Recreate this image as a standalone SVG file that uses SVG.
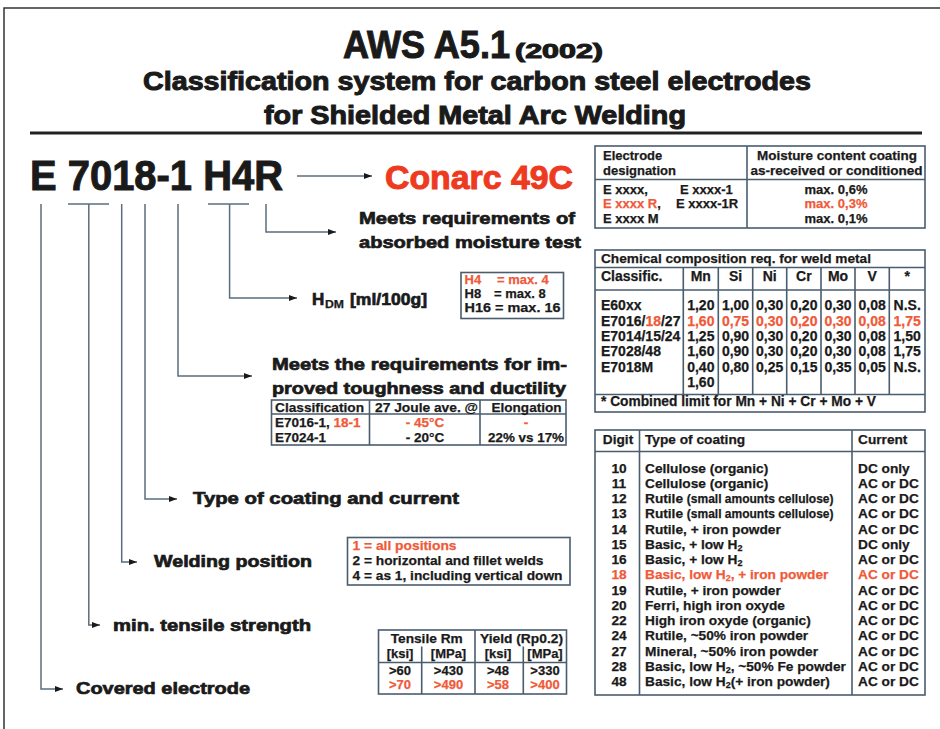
<svg xmlns="http://www.w3.org/2000/svg" width="940" height="729" viewBox="0 0 940 729">
<defs>
<marker id="ah" markerUnits="userSpaceOnUse" markerWidth="9" markerHeight="7" refX="8" refY="3.5" orient="auto">
<path d="M0,0.5 L8,3.5 L0,6.5 z" fill="#1a1a1a"/>
</marker>
<style>
text{font-family:"Liberation Sans",Arial,Helvetica,sans-serif;font-weight:bold;fill:#1a1a1a;stroke:#1a1a1a;stroke-width:0.25}
.big{stroke:#1a1a1a;stroke-width:1}
.lbl{font-size:17px;stroke:#1a1a1a;stroke-width:0.7}
.red{fill:#ef5a3a;stroke:#ef5a3a}
.cred{fill:#ee3a1f;stroke:#ee3a1f;stroke-width:1}
.tb{fill:none;stroke:#4a5d6e;stroke-width:1.6}
.cn{fill:none;stroke:#5b6d7e;stroke-width:1.5}
.t13{font-size:13px}
.t14{font-size:14px}
.tr{font-size:13.7px}
.m{text-anchor:middle}
</style>
</defs>
<rect width="940" height="729" fill="#ffffff"/>
<path d="M4,729 V8 H940" fill="none" stroke="#333" stroke-width="1.5"/>

<g id="title">
<text x="343" y="58" font-size="38" class="big" textLength="167" lengthAdjust="spacingAndGlyphs">AWS A5.1</text>
<text x="515" y="58" font-size="20" class="big" textLength="88" lengthAdjust="spacingAndGlyphs">(2002)</text>
<text x="143" y="90" font-size="26" class="big" textLength="668" lengthAdjust="spacingAndGlyphs">Classification system for carbon steel electrodes</text>
<text x="264" y="124" font-size="26" class="big" textLength="422" lengthAdjust="spacingAndGlyphs">for Shielded Metal Arc Welding</text>
<line x1="30" y1="133" x2="922" y2="133" stroke="#222" stroke-width="3"/>
</g>

<g id="designation">
<text x="30" y="190" font-size="42" class="big" textLength="253" lengthAdjust="spacingAndGlyphs">E 7018-1 H4R</text>
</g>
<g id="conarc">
<text x="385" y="189" font-size="34" class="cred" textLength="188" lengthAdjust="spacingAndGlyphs">Conarc 49C</text>
</g>

<g id="connectors">
<line class="cn" x1="297" y1="176" x2="372" y2="176" stroke="#333" marker-end="url(#ah)"/>
<line class="cn" x1="68" y1="204" x2="109" y2="204"/>
<line class="cn" x1="208" y1="204" x2="249" y2="204"/>
<path class="cn" d="M41,204 V689 H63" marker-end="url(#ah)"/>
<path class="cn" d="M88.8,204 V625 H100" marker-end="url(#ah)"/>
<path class="cn" d="M121.7,204 V562 H137" marker-end="url(#ah)"/>
<path class="cn" d="M145,204 V499 H177" marker-end="url(#ah)"/>
<path class="cn" d="M178,204 V376 H252" marker-end="url(#ah)"/>
<path class="cn" d="M229.6,204 V298 H297" marker-end="url(#ah)"/>
<path class="cn" d="M266,204 V232 H336" marker-end="url(#ah)"/>
</g>

<g id="label-moisture-test">
<text x="359" y="224" class="lbl" textLength="216" lengthAdjust="spacingAndGlyphs">Meets requirements of</text>
<text x="359" y="248" class="lbl" textLength="222" lengthAdjust="spacingAndGlyphs">absorbed moisture test</text>
</g>
<g id="label-hdm">
<text x="312" y="305" class="lbl">H</text>
<text x="325" y="308" font-size="10" textLength="19" lengthAdjust="spacingAndGlyphs">DM</text>
<text x="350" y="305" class="lbl" textLength="77" lengthAdjust="spacingAndGlyphs">[ml/100g]</text>
</g>
<g id="label-toughness">
<text x="272" y="370" class="lbl" textLength="295" lengthAdjust="spacingAndGlyphs">Meets the requirements for im-</text>
<text x="272" y="394" class="lbl" textLength="294" lengthAdjust="spacingAndGlyphs">proved toughness and ductility</text>
</g>
<g id="label-coating">
<text x="193" y="504" class="lbl" textLength="266" lengthAdjust="spacingAndGlyphs">Type of coating and current</text>
</g>
<g id="label-position">
<text x="154" y="567" class="lbl" textLength="158" lengthAdjust="spacingAndGlyphs">Welding position</text>
</g>
<g id="label-tensile">
<text x="113" y="631" class="lbl" textLength="198" lengthAdjust="spacingAndGlyphs">min. tensile strength</text>
</g>
<g id="label-covered">
<text x="76" y="694" class="lbl" textLength="174" lengthAdjust="spacingAndGlyphs">Covered electrode</text>
</g>

<g id="moisture-table">
<rect class="tb" x="595" y="146" width="330" height="82"/>
<line class="tb" x1="595" y1="179.5" x2="925" y2="179.5"/>
<line class="tb" x1="747" y1="146" x2="747" y2="228"/>
<text x="603" y="160" class="t13">Electrode</text>
<text x="603" y="175" class="t13">designation</text>
<text x="837" y="160" class="t13 m" textLength="160" lengthAdjust="spacingAndGlyphs">Moisture content coating</text>
<text x="836.5" y="175" class="t13 m" textLength="172" lengthAdjust="spacingAndGlyphs">as-received or conditioned</text>
<text x="603" y="194" class="t13">E xxxx,</text>
<text x="680" y="194" class="t13">E xxxx-1</text>
<text x="603" y="208" class="t13"><tspan class="red">E xxxx R</tspan>,</text>
<text x="676" y="208" class="t13">E xxxx-1R</text>
<text x="603" y="223" class="t13">E xxxx M</text>
<text x="836" y="194" class="t13 m">max. 0,6%</text>
<text x="836" y="208" class="t13 m red">max. 0,3%</text>
<text x="836" y="223" class="t13 m">max. 0,1%</text>
</g>

<g id="h-box">
<rect class="tb" x="461" y="272.5" width="102.5" height="46"/>
<text x="464.5" y="284.3" class="t13 red">H4</text>
<text x="497" y="284.3" class="t13 red">= max. 4</text>
<text x="464.5" y="298.3" class="t13">H8</text>
<text x="494" y="298.3" class="t13">= max. 8</text>
<text x="464.5" y="311.7" class="t13" textLength="96" lengthAdjust="spacingAndGlyphs">H16 = max. 16</text>
</g>

<g id="chem-table">
<rect class="tb" x="595" y="250" width="330" height="162"/>
<line class="tb" x1="595" y1="267.5" x2="925" y2="267.5"/>
<line class="tb" x1="595" y1="290" x2="925" y2="290"/>
<line class="tb" x1="595" y1="394.5" x2="925" y2="394.5"/>
<path class="tb" d="M683.3,267.5 V394.5 M718.3,267.5 V394.5 M752.7,267.5 V394.5 M786.7,267.5 V394.5 M821,267.5 V394.5 M855,267.5 V394.5 M889.3,267.5 V394.5"/>
<text x="601" y="262.5" font-size="13.5" textLength="270" lengthAdjust="spacingAndGlyphs">Chemical composition req. for weld metal</text>
<text x="601" y="281" class="t14">Classific.</text>
<text y="281" class="t14 m"><tspan x="700.8">Mn</tspan><tspan x="735.5">Si</tspan><tspan x="769.7">Ni</tspan><tspan x="803.8">Cr</tspan><tspan x="838">Mo</tspan><tspan x="872.2">V</tspan><tspan x="907.2">*</tspan></text>
<text x="601" y="310" class="t14">E60xx</text>
<text x="601" y="325.5" class="t14">E7016/<tspan class="red">18</tspan>/27</text>
<text x="601" y="341" class="t14">E7014/15/24</text>
<text x="601" y="356" class="t14">E7028/48</text>
<text x="601" y="371.5" class="t14">E7018M</text>
<text y="310" class="t14 m"><tspan x="700.8">1,20</tspan><tspan x="735.5">1,00</tspan><tspan x="769.7">0,30</tspan><tspan x="803.8">0,20</tspan><tspan x="838">0,30</tspan><tspan x="872.2">0,08</tspan><tspan x="907.2">N.S.</tspan></text>
<text y="325.5" class="t14 m red"><tspan x="700.8">1,60</tspan><tspan x="735.5">0,75</tspan><tspan x="769.7">0,30</tspan><tspan x="803.8">0,20</tspan><tspan x="838">0,30</tspan><tspan x="872.2">0,08</tspan><tspan x="907.2">1,75</tspan></text>
<text y="341" class="t14 m"><tspan x="700.8">1,25</tspan><tspan x="735.5">0,90</tspan><tspan x="769.7">0,30</tspan><tspan x="803.8">0,20</tspan><tspan x="838">0,30</tspan><tspan x="872.2">0,08</tspan><tspan x="907.2">1,50</tspan></text>
<text y="356" class="t14 m"><tspan x="700.8">1,60</tspan><tspan x="735.5">0,90</tspan><tspan x="769.7">0,30</tspan><tspan x="803.8">0,20</tspan><tspan x="838">0,30</tspan><tspan x="872.2">0,08</tspan><tspan x="907.2">1,75</tspan></text>
<text y="371.5" class="t14 m"><tspan x="700.8">0,40</tspan><tspan x="735.5">0,80</tspan><tspan x="769.7">0,25</tspan><tspan x="803.8">0,15</tspan><tspan x="838">0,35</tspan><tspan x="872.2">0,05</tspan><tspan x="907.2">N.S.</tspan></text>
<text x="700.8" y="387" class="t14 m">1,60</text>
<text x="601" y="406" class="t14" textLength="275" lengthAdjust="spacingAndGlyphs">* Combined limit for Mn + Ni + Cr + Mo + V</text>
</g>

<g id="toughness-table">
<rect class="tb" x="271.5" y="400" width="294.5" height="45"/>
<line class="tb" x1="271.5" y1="414" x2="566" y2="414"/>
<line class="tb" x1="369.5" y1="400" x2="369.5" y2="445"/>
<line class="tb" x1="480" y1="400" x2="480" y2="445"/>
<text x="275" y="411.5" font-size="13.5" textLength="89" lengthAdjust="spacingAndGlyphs">Classification</text>
<text x="426.5" y="411.5" font-size="13.5" class="m" textLength="103" lengthAdjust="spacingAndGlyphs">27 Joule ave. @</text>
<text x="526.5" y="411.5" font-size="13.5" class="m" textLength="70" lengthAdjust="spacingAndGlyphs">Elongation</text>
<text x="275" y="426.5" font-size="13.5">E7016-1, <tspan class="red">18-1</tspan></text>
<text x="425" y="426.5" font-size="13.5" class="m red">- 45°C</text>
<text x="526" y="426.5" font-size="13.5" class="m red">-</text>
<text x="275" y="441.5" font-size="13.5">E7024-1</text>
<text x="425" y="441.5" font-size="13.5" class="m">- 20°C</text>
<text x="526" y="441.5" font-size="13.5" class="m" textLength="76" lengthAdjust="spacingAndGlyphs">22% vs 17%</text>
</g>

<g id="position-box">
<rect class="tb" x="347.5" y="537.5" width="222.5" height="47.5"/>
<text x="352.5" y="549.5" class="t13 red" textLength="104" lengthAdjust="spacingAndGlyphs">1 = all positions</text>
<text x="352.5" y="565" class="t13" textLength="191" lengthAdjust="spacingAndGlyphs">2 = horizontal and fillet welds</text>
<text x="352.5" y="580" class="t13" textLength="210" lengthAdjust="spacingAndGlyphs">4 = as 1, including vertical down</text>
</g>

<g id="tensile-table">
<rect class="tb" x="378.5" y="630" width="188" height="64"/>
<line class="tb" x1="475" y1="630" x2="475" y2="694"/>
<line class="tb" x1="421.7" y1="646.5" x2="421.7" y2="694"/>
<line class="tb" x1="523.3" y1="646.5" x2="523.3" y2="694"/>
<line class="tb" x1="378.5" y1="662.5" x2="566.5" y2="662.5"/>
<text x="426.7" y="642.5" class="t13 m" textLength="72" lengthAdjust="spacingAndGlyphs">Tensile Rm</text>
<text x="521.5" y="642.5" class="t13 m" textLength="83" lengthAdjust="spacingAndGlyphs">Yield (Rp0.2)</text>
<text y="657.5" class="t13 m"><tspan x="400">[ksi]</tspan><tspan x="448.5">[MPa]</tspan><tspan x="498">[ksi]</tspan><tspan x="545">[MPa]</tspan></text>
<text y="675" class="t13 m"><tspan x="400">&gt;60</tspan><tspan x="448.5">&gt;430</tspan><tspan x="498">&gt;48</tspan><tspan x="545">&gt;330</tspan></text>
<text y="689" class="t13 m red"><tspan x="400">&gt;70</tspan><tspan x="448.5">&gt;490</tspan><tspan x="498">&gt;58</tspan><tspan x="545">&gt;400</tspan></text>
</g>

<g id="coating-table">
<rect class="tb" x="595" y="430" width="330" height="265"/>
<line class="tb" x1="595" y1="451.5" x2="925" y2="451.5"/>
<line class="tb" x1="639.5" y1="430" x2="639.5" y2="695"/>
<line class="tb" x1="852" y1="430" x2="852" y2="695"/>
<text x="618" y="443.5" class="tr m">Digit</text>
<text x="645" y="443.5" class="tr">Type of coating</text>
<text x="858" y="443.5" class="tr">Current</text>
<g class="tr">
<text x="619" y="472.5" class="tr m">10</text><text x="645" y="472.5" class="tr">Cellulose (organic)</text><text x="858" y="472.5" class="tr">DC only</text>
<text x="619" y="487.75" class="tr m">11</text><text x="645" y="487.75" class="tr">Cellulose (organic)</text><text x="858" y="487.75" class="tr">AC or DC</text>
<text x="619" y="503" class="tr m">12</text><text x="645" y="503" class="tr">Rutile <tspan font-size="12">(small amounts cellulose)</tspan></text><text x="858" y="503" class="tr">AC or DC</text>
<text x="619" y="518.25" class="tr m">13</text><text x="645" y="518.25" class="tr">Rutile <tspan font-size="12">(small amounts cellulose)</tspan></text><text x="858" y="518.25" class="tr">AC or DC</text>
<text x="619" y="533.5" class="tr m">14</text><text x="645" y="533.5" class="tr">Rutile, + iron powder</text><text x="858" y="533.5" class="tr">AC or DC</text>
<text x="619" y="548.75" class="tr m">15</text><text x="645" y="548.75" class="tr">Basic, + low H<tspan font-size="9" dy="2">2</tspan></text><text x="858" y="548.75" class="tr">DC only</text>
<text x="619" y="564" class="tr m">16</text><text x="645" y="564" class="tr">Basic, + low H<tspan font-size="9" dy="2">2</tspan></text><text x="858" y="564" class="tr">AC or DC</text>
<text x="619" y="579.25" class="tr m red">18</text><text x="645" y="579.25" class="tr red">Basic, low H<tspan font-size="9" dy="2">2</tspan><tspan dy="-2">, + iron powder</tspan></text><text x="858" y="579.25" class="tr red">AC or DC</text>
<text x="619" y="594.5" class="tr m">19</text><text x="645" y="594.5" class="tr">Rutile, + iron powder</text><text x="858" y="594.5" class="tr">AC or DC</text>
<text x="619" y="609.75" class="tr m">20</text><text x="645" y="609.75" class="tr">Ferri, high iron oxyde</text><text x="858" y="609.75" class="tr">AC or DC</text>
<text x="619" y="625" class="tr m">22</text><text x="645" y="625" class="tr">High iron oxyde (organic)</text><text x="858" y="625" class="tr">AC or DC</text>
<text x="619" y="640.25" class="tr m">24</text><text x="645" y="640.25" class="tr">Rutile, ~50% iron powder</text><text x="858" y="640.25" class="tr">AC or DC</text>
<text x="619" y="655.5" class="tr m">27</text><text x="645" y="655.5" class="tr">Mineral, ~50% iron powder</text><text x="858" y="655.5" class="tr">AC or DC</text>
<text x="619" y="670.75" class="tr m">28</text><text x="645" y="670.75" class="tr">Basic, low H<tspan font-size="9" dy="2">2</tspan><tspan dy="-2">, ~50% Fe powder</tspan></text><text x="858" y="670.75" class="tr">AC or DC</text>
<text x="619" y="686" class="tr m">48</text><text x="645" y="686" class="tr">Basic, low H<tspan font-size="9" dy="2">2</tspan><tspan dy="-2">(+ iron powder)</tspan></text><text x="858" y="686" class="tr">AC or DC</text>
</g>
</g>
</svg>
